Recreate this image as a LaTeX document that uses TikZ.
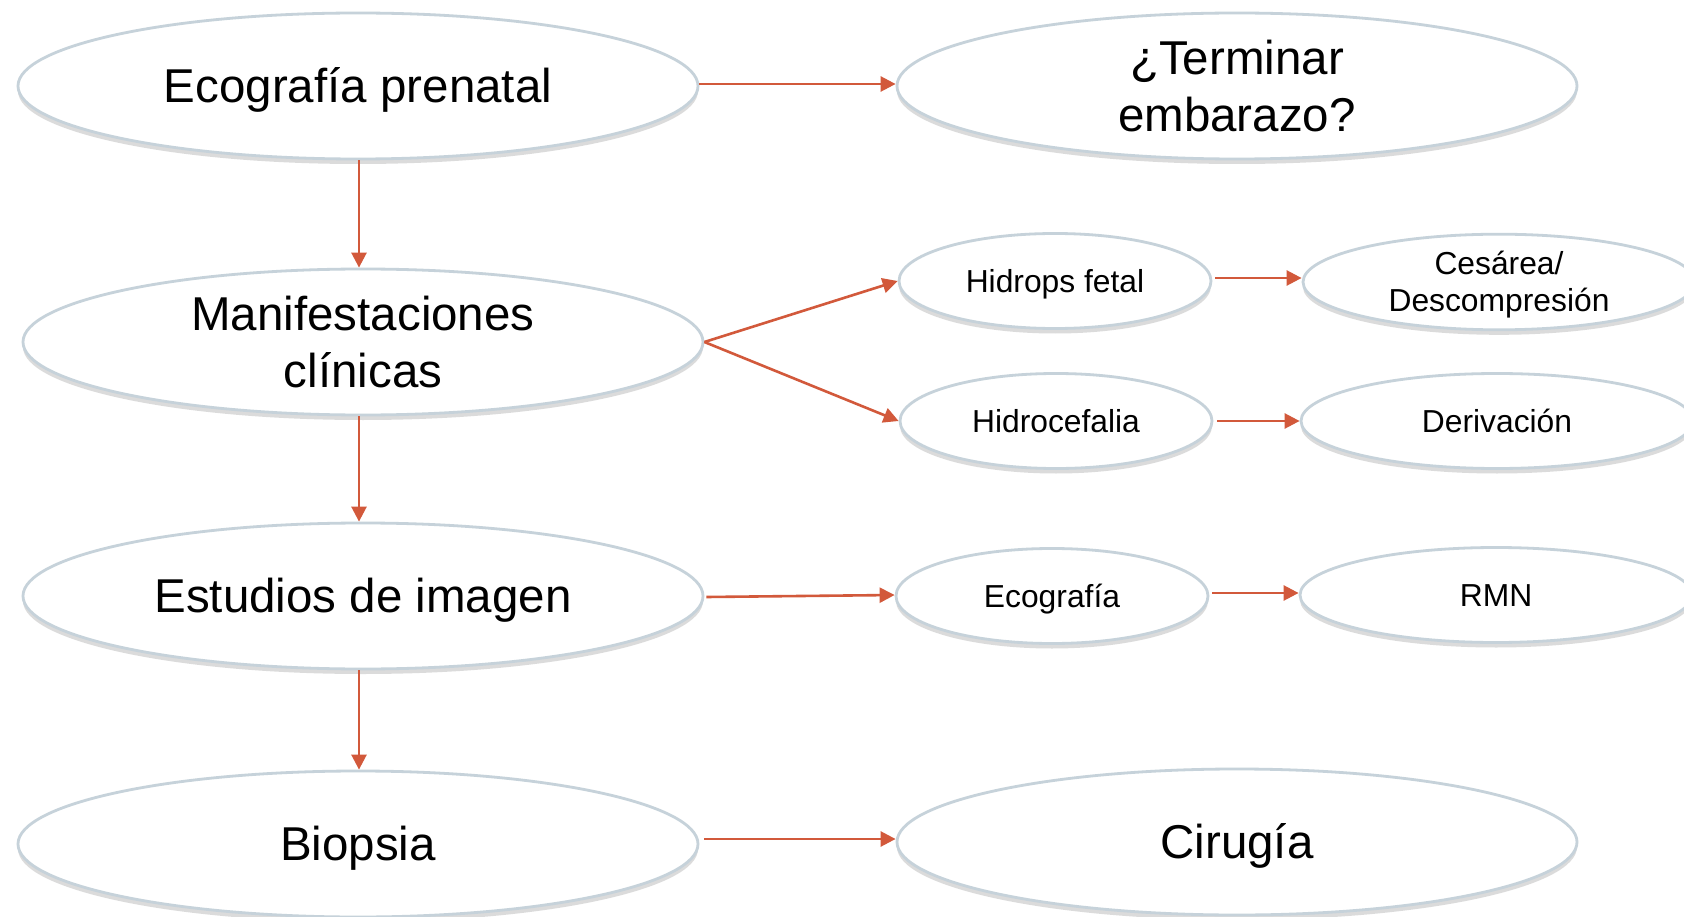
\documentclass[tikz,border=0pt]{standalone}
\usepackage{fontspec}
\setmainfont{Liberation Sans}
\usetikzlibrary{shapes.geometric,arrows.meta,shadows}
\definecolor{edgecol}{HTML}{C6D2DA}
\definecolor{arrcol}{HTML}{D2593B}
\tikzset{
  oval/.style={ellipse, draw=edgecol, line width=2.8pt, fill=white, inner sep=0pt, align=center,
    drop shadow={shadow xshift=0pt, shadow yshift=-5pt, opacity=0.28, fill=gray}},
  bigoval/.style={oval, minimum width=680pt, minimum height=146pt,
    font=\fontsize{47.5}{57}\selectfont},
  smalloval/.style={oval, minimum width=312pt, minimum height=95pt,
    font=\fontsize{31.8}{37.6}\selectfont},
  rightoval/.style={oval, minimum width=392pt, minimum height=95pt,
    font=\fontsize{31.8}{37.6}\selectfont},
  bigline/.style={text height=43pt, text depth=10pt},
  smallline/.style={text height=28.8pt, text depth=6.75pt},
  conn/.style={draw=arrcol, line width=2.6pt, -{Triangle[length=15pt,width=15pt]}}
}
\begin{document}
\begin{tikzpicture}[x=1pt,y=-1pt]
\useasboundingbox (0,0) rectangle (1684,917);
\clip (0,0) rectangle (1684,917);
\fill[white] (0,0) rectangle (1684,917);
\node[bigoval,bigline] (eco) at (358,86) {Ecografía prenatal};
\node[bigoval] (term) at (1237,86) {¿Terminar\\embarazo?};
\node[bigoval] (man) at (363,342) {Manifestaciones\\clínicas};
\node[bigoval,bigline] (est) at (363,596) {Estudios de imagen};
\node[bigoval,bigline] (bio) at (358,844) {Biopsia};
\node[bigoval,bigline] (cir) at (1237,842) {Cirugía};
\node[smalloval,smallline] (hid) at (1055,281) {Hidrops fetal};
\node[smalloval,smallline] (hic) at (1056,421) {Hidrocefalia};
\node[smalloval,smallline] (ecg) at (1052,596) {Ecografía};
\node[rightoval] (ces) at (1499,282) {\raisebox{-2.5pt}[\height][\depth]{Cesárea/}\\\raisebox{-2.5pt}[\height][\depth]{Descompresión}};
\node[rightoval,smallline] (der) at (1497,421) {Derivación};
\node[rightoval,smallline] (rmn) at (1496,595) {RMN};
\coordinate (c1) at (359,0);
\draw[conn] (eco.east |- 0,84) -- (term.west |- 0,84);
\draw[conn] (eco.south -| c1) -- (man.north -| c1);
\draw[conn] (man.east) -- (hid.west);
\draw[conn] (man.east) -- (hic.west);
\draw[conn] ([xshift=3pt]hid.east |- 0,278) -- (ces.west |- 0,278);
\draw[conn] ([xshift=4pt]hic.east) -- (der.west);
\draw[conn] (man.south -| c1) -- (est.north -| c1);
\draw[conn] ([xshift=2pt]est.east |- 0,597) -- (ecg.west |- 0,595);
\draw[conn] ([xshift=3pt]ecg.east |- 0,593) -- (rmn.west |- 0,593);
\draw[conn] (est.south -| c1) -- (bio.north -| c1);
\draw[conn] ([xshift=5pt]bio.east |- 0,839) -- (cir.west |- 0,839);
\end{tikzpicture}
\end{document}
